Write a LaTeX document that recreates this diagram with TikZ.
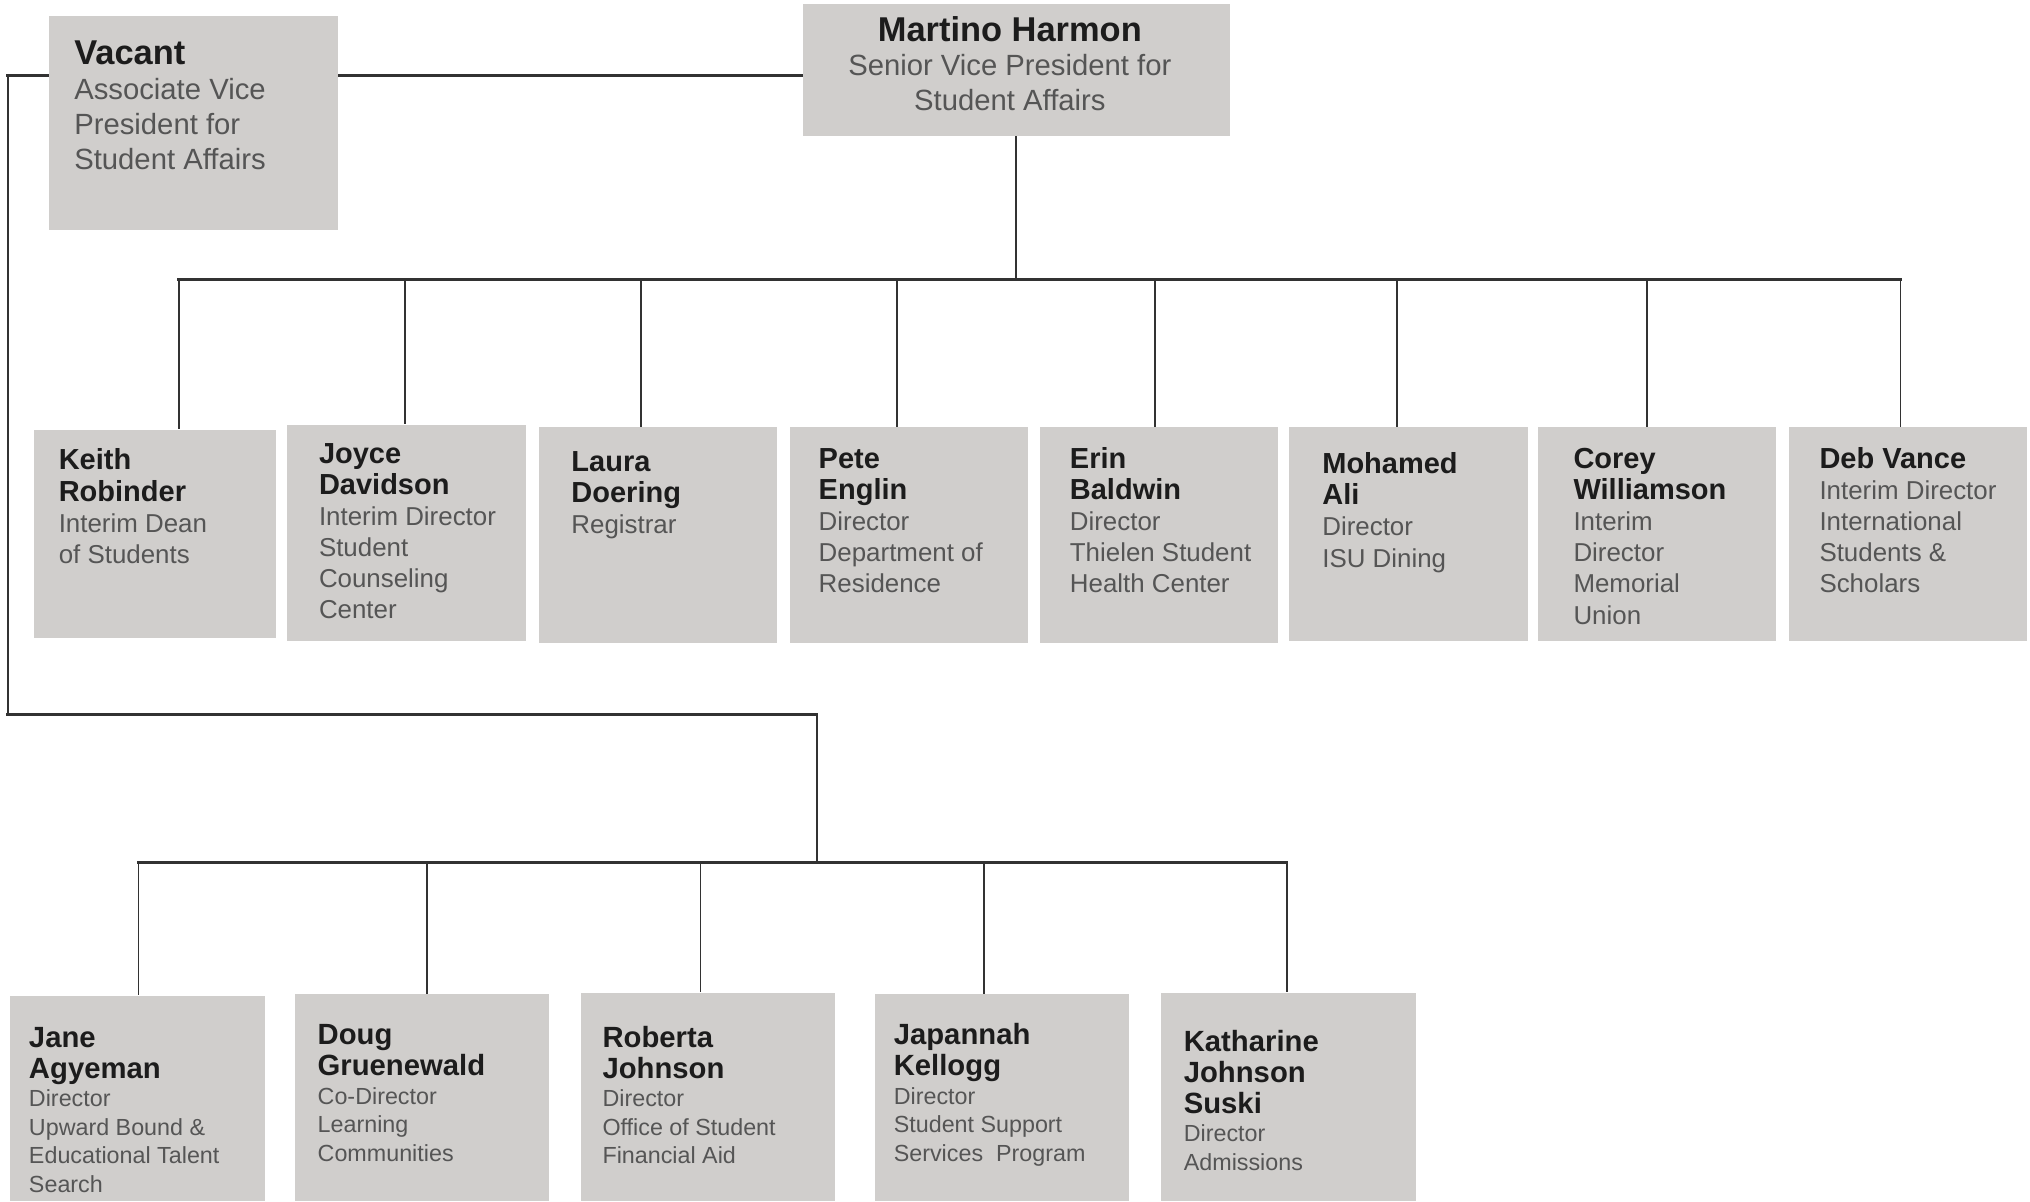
\documentclass[tikz,border=0pt]{standalone}
\usepackage{fontspec}
\setmainfont{Liberation Sans}
\usetikzlibrary{backgrounds}
\definecolor{boxfill}{RGB}{208,206,204}
\definecolor{namec}{RGB}{28,28,28}
\definecolor{titlec}{RGB}{85,85,85}
\definecolor{linec}{RGB}{50,50,50}
\newcommand\nmA[1]{\hbox{\fontsize{13.3}{13.5}\selectfont\bfseries\color{namec}#1}}
\newcommand\tlA[1]{\hbox{\fontsize{11.3}{13.5}\selectfont\color{titlec}#1}}
\newcommand\nmB[1]{\hbox{\fontsize{11.2}{12}\selectfont\bfseries\color{namec}#1}}
\newcommand\tlB[1]{\hbox{\fontsize{10}{12}\selectfont\color{titlec}#1}}
\newcommand\nmC[1]{\hbox{\fontsize{11.3}{12}\selectfont\bfseries\color{namec}#1}}
\newcommand\tlC[1]{\hbox{\fontsize{9}{11}\selectfont\color{titlec}#1}}
\newcommand\ctrline[1]{\hbox to 135pt{\hss#1\hss}}
\newcommand\mkbox[5]{\node[pbox, minimum width={(#4-#2)*0.5pt}, minimum height={(#5-#3)*0.5pt}] (#1) at ({(#2+#4)/2},{(#3+#5)/2}) {};}
\newcommand\mktext[4]{\node[txt] (#1) at (#2,#3) {\vtop{#4}};}
\begin{document}
\begin{tikzpicture}[x=0.5pt,y=-0.5pt,
  pbox/.style={rectangle, fill=boxfill, draw=none, inner sep=0pt},
  txt/.style={anchor=base west, inner sep=0pt},
  hline/.style={draw=linec, line width=1.1pt, line cap=rect},
  vline/.style={draw=linec, line width=0.7pt}]
\useasboundingbox (0,0) rectangle (1568,928);
% ---------- top boxes
\mkbox{vacant}{38}{12}{261}{178}
\mkbox{martino}{620}{3}{950}{105}
% ---------- middle row
\mkbox{keith}{26}{332}{213}{493}
\mkbox{joyce}{222}{328}{406}{495}
\mkbox{laura}{416}{330}{600}{497}
\mkbox{pete}{610}{330}{794}{497}
\mkbox{erin}{803}{330}{987}{497}
\mkbox{mohamed}{996}{330}{1180}{495}
\mkbox{corey}{1188}{330}{1372}{495}
\mkbox{deb}{1382}{330}{1566}{495}
% ---------- bottom row
\mkbox{jane}{8}{769}{205}{928}
\mkbox{doug}{228}{768}{424}{928}
\mkbox{roberta}{449}{767}{645}{928}
\mkbox{japannah}{676}{768}{872}{928}
\mkbox{katharine}{897}{767}{1094}{928}
% ---------- texts
\mktext{tvacant}{57}{50}{\baselineskip=13.5pt\nmA{Vacant}\tlA{Associate Vice}\tlA{President for}\tlA{Student Affairs}}
\node[anchor=base, inner sep=0pt] (tmartino) at (780,32) {\vtop{\baselineskip=13.25pt\ctrline{\nmA{Martino Harmon}}\ctrline{\tlA{Senior Vice President for}}\ctrline{\tlA{Student Affairs}}}};
\mktext{tkeith}{45}{363}{\baselineskip=12pt\nmB{Keith}\nmB{Robinder}\tlB{Interim Dean}\tlB{of Students}}
\mktext{tjoyce}{246}{358}{\baselineskip=12pt\nmB{Joyce}\nmB{Davidson}\tlB{Interim Director}\tlB{Student}\tlB{Counseling}\tlB{Center}}
\mktext{tlaura}{441}{364}{\baselineskip=12pt\nmB{Laura}\nmB{Doering}\tlB{Registrar}}
\mktext{tpete}{632}{362}{\baselineskip=12pt\nmB{Pete}\nmB{Englin}\tlB{Director}\tlB{Department of}\tlB{Residence}}
\mktext{terin}{826}{362}{\baselineskip=12pt\nmB{Erin}\nmB{Baldwin}\tlB{Director}\tlB{Thielen Student}\tlB{Health Center}}
\mktext{tmohamed}{1021}{366}{\baselineskip=12pt\nmB{Mohamed}\nmB{Ali}\tlB{Director}\tlB{ISU Dining}}
\mktext{tcorey}{1215}{362}{\baselineskip=12pt\nmB{Corey}\nmB{Williamson}\tlB{Interim}\tlB{Director}\tlB{Memorial}\tlB{Union}}
\mktext{tdeb}{1405}{362}{\baselineskip=12pt\nmB{Deb Vance}\tlB{Interim Director}\tlB{International}\tlB{Students \&}\tlB{Scholars}}
\mktext{tjane}{22}{809}{\baselineskip=12pt\nmC{Jane}\nmC{Agyeman}\baselineskip=11pt\tlC{Director}\tlC{Upward Bound \&}\tlC{Educational Talent}\tlC{Search}}
\mktext{tdoug}{245}{807}{\baselineskip=12pt\nmC{Doug}\nmC{Gruenewald}\baselineskip=11pt\tlC{Co-Director}\tlC{Learning}\tlC{Communities}}
\mktext{troberta}{465}{809}{\baselineskip=12pt\nmC{Roberta}\nmC{Johnson}\baselineskip=11pt\tlC{Director}\tlC{Office of Student}\tlC{Financial Aid}}
\mktext{tjapannah}{690}{807}{\baselineskip=12pt\nmC{Japannah}\nmC{Kellogg}\baselineskip=11pt\tlC{Director}\tlC{Student Support}\tlC{Services\ \ Program}}
\mktext{tkatharine}{914}{812}{\baselineskip=12pt\nmC{Katharine}\nmC{Johnson}\nmC{Suski}\baselineskip=11pt\tlC{Director}\tlC{Admissions}}
% ---------- connectors (behind boxes)
\begin{scope}[on background layer]
\fill[white] (0,0) rectangle (1568,928);
\coordinate (corner) at (6,58);
\draw[hline] (corner) -- (martino.west |- corner);
\coordinate (busA) at (785,216);
\draw[vline] (martino.south) -- (busA);
\coordinate (dA1) at (138,216);
\coordinate (dA2) at (313,216);
\coordinate (dA3) at (495,216);
\coordinate (dA4) at (693,216);
\coordinate (dA5) at (892,216);
\coordinate (dA6) at (1079,216);
\coordinate (dA7) at (1272,216);
\coordinate (dA8) at (1468,216);
\draw[hline] (dA1) -- (dA8);
\draw[vline] (dA1) -- (dA1 |- keith.north);
\draw[vline] (dA2) -- (dA2 |- joyce.north);
\draw[vline] (dA3) -- (dA3 |- laura.north);
\draw[vline] (dA4) -- (dA4 |- pete.north);
\draw[vline] (dA5) -- (dA5 |- erin.north);
\draw[vline] (dA6) -- (dA6 |- mohamed.north);
\draw[vline] (dA7) -- (dA7 |- corey.north);
\draw[vline] (dA8) -- (dA8 |- deb.north);
\coordinate (elbowA) at (6,552);
\coordinate (elbowB) at (631,552);
\coordinate (busB) at (631,666);
\draw[vline] (corner) -- (elbowA);
\draw[hline] (elbowA) -- (elbowB);
\draw[vline] (elbowB) -- (busB);
\coordinate (dB1) at (107,666);
\coordinate (dB2) at (330,666);
\coordinate (dB3) at (541,666);
\coordinate (dB4) at (760,666);
\coordinate (dB5) at (994,666);
\draw[hline] (dB1) -- (dB5);
\draw[vline] (dB1) -- (dB1 |- jane.north);
\draw[vline] (dB2) -- (dB2 |- doug.north);
\draw[vline] (dB3) -- (dB3 |- roberta.north);
\draw[vline] (dB4) -- (dB4 |- japannah.north);
\draw[vline] (dB5) -- (dB5 |- katharine.north);
\end{scope}
\end{tikzpicture}
\end{document}
